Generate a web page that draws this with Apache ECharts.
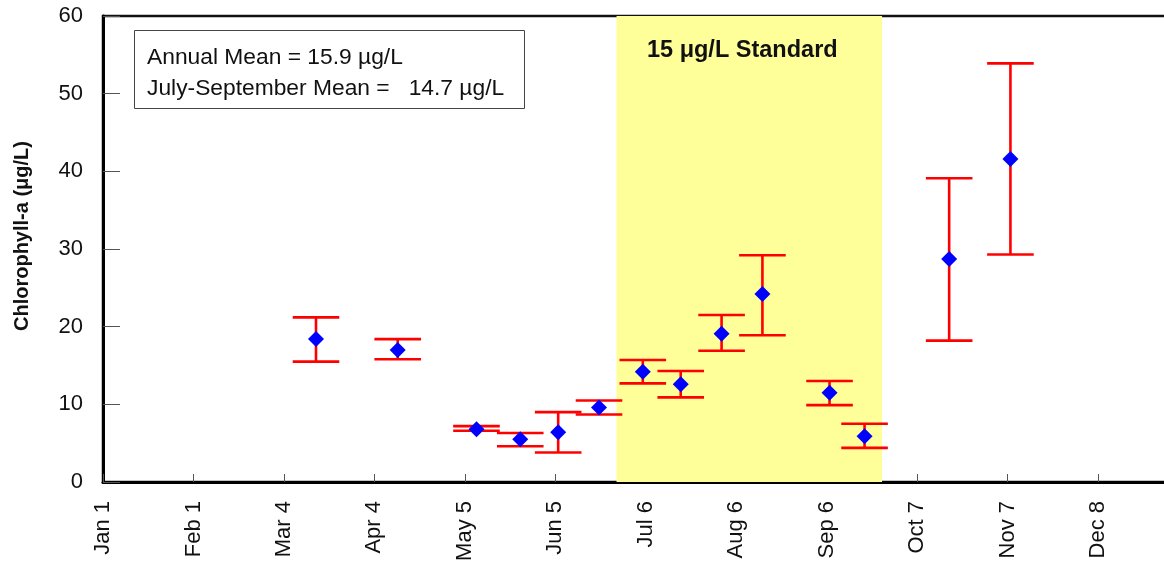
<!DOCTYPE html>
<html>
<head>
<meta charset="utf-8">
<script src="https://cdn.jsdelivr.net/npm/echarts@6/dist/echarts.min.js"></script>
<style>
html,body{margin:0;padding:0;background:#fff;}
#chart{width:1164px;height:564px;}
</style>
</head>
<body>
<div id="chart"></div>
<script>
// ---- data ----
const tickLabels = ['Jan 1','Feb 1','Mar 4','Apr 4','May 5','Jun 5','Jul 6','Aug 6','Sep 6','Oct 7','Nov 7','Dec 8'];
const sampleDays = [73, 101, 128, 143, 156, 170, 185, 198, 212, 226, 249, 261, 290, 311];
const meanValues = [18.4, 17.0, 6.8, 5.5, 6.4, 9.6, 14.2, 12.6, 19.1, 24.2, 11.5, 5.9, 28.7, 41.6];
const upperValues = [21.2, 18.4, 7.2, 6.3, 9.0, 10.5, 15.7, 14.3, 21.5, 29.2, 13.0, 7.5, 39.1, 53.9];
const lowerValues = [15.5, 15.8, 6.6, 4.6, 3.8, 8.7, 12.7, 10.9, 16.9, 18.9, 9.9, 4.4, 18.2, 29.3];
const standardPeriod = [176, 267];
const standardLabel = '15 \u03bcg/L Standard';
const boxLines = ['Annual Mean = 15.9 \u00b5g/L', 'July-September Mean =   14.7 \u00b5g/L'];
const yTitle = 'Chlorophyll-a (\u03bcg/L)';

const FONT = '"Liberation Sans", Arial, Helvetica, sans-serif';
const chart = echarts.init(document.getElementById('chart'), null, {renderer:'canvas'});

const meanData = sampleDays.map((d, i) => [d, meanValues[i]]);
const errData = sampleDays.map((d, i) => [d, lowerValues[i], upperValues[i]]);

const option = {
  animation: false,
  backgroundColor: '#fff',
  grid: {left: 103, top: 16, width: 1065, bottom: 82, containLabel: false, outerBoundsMode: 'none',
    show: true, borderColor: '#111', borderWidth: 2.5, backgroundColor: 'transparent'},
  xAxis: {
    type: 'value', min: 0, max: 365, interval: 31,
    axisLine: {show: true, onZero: false, lineStyle: {color: '#000', width: 3}},
    axisTick: {show: true, inside: true, length: 8, lineStyle: {color: '#555', width: 1}},
    splitLine: {show: false},
    axisLabel: {
      rotate: 90, margin: 19, fontFamily: FONT, fontSize: 22, color: '#111',
      showMaxLabel: false,
      formatter: v => { const i = v / 31; return Number.isInteger(i) && tickLabels[i] ? tickLabels[i] : ''; }
    }
  },
  yAxis: {
    type: 'value', min: 0, max: 60, interval: 10,
    axisLine: {show: true, onZero: false, lineStyle: {color: '#000', width: 3}},
    axisTick: {show: true, inside: true, length: 17, lineStyle: {color: '#555', width: 1}},
    splitLine: {show: false},
    axisLabel: {margin: 20, fontFamily: FONT, fontSize: 22, color: '#111'}
  },
  graphic: [
    {
      type: 'rect', left: 134, top: 30, z: 10,
      shape: {width: 390, height: 78},
      style: {fill: '#fff', stroke: '#444', lineWidth: 1}
    },
    {
      type: 'text', left: 147, top: 42, z: 11,
      style: {text: boxLines.join('\n'), font: '22.8px ' + FONT, fill: '#111', lineHeight: 31}
    },
    {
      type: 'text', x: 22, y: 236, rotation: Math.PI / 2, z: 11,
      style: {text: yTitle, font: 'bold 20px ' + FONT, fill: '#111', align: 'center', verticalAlign: 'middle'}
    }
  ],
  series: [
    {
      type: 'scatter', data: [], z: -1, silent: true,
      markArea: {
        silent: true,
        itemStyle: {color: '#ffff99'},
        label: {show: true, position: 'insideTop', distance: 23, offset: [-7, 0], formatter: standardLabel,
          fontFamily: FONT, fontSize: 23.5, fontWeight: 'bold', color: '#111'},
        data: [[{xAxis: standardPeriod[0]}, {xAxis: standardPeriod[1]}]]
      }
    },
    {
      type: 'custom', data: errData, z: 3, silent: true,
      renderItem: (params, api) => {
        const x = api.value(0);
        const lo = api.coord([x, api.value(1)]);
        const hi = api.coord([x, api.value(2)]);
        const hw = 23.3;
        const st = {stroke: '#ff0000', lineWidth: 2.6};
        return {type: 'group', children: [
          {type: 'line', shape: {x1: hi[0], y1: hi[1], x2: lo[0], y2: lo[1]}, style: st},
          {type: 'line', shape: {x1: hi[0] - hw, y1: hi[1], x2: hi[0] + hw, y2: hi[1]}, style: st},
          {type: 'line', shape: {x1: lo[0] - hw, y1: lo[1], x2: lo[0] + hw, y2: lo[1]}, style: st}
        ]};
      }
    },
    {
      type: 'scatter', data: meanData, z: 4, silent: true,
      symbol: 'diamond', symbolSize: [16, 16],
      itemStyle: {color: '#0000ff', opacity: 1}
    }
  ]
};
chart.setOption(option);
</script>
</body>
</html>
